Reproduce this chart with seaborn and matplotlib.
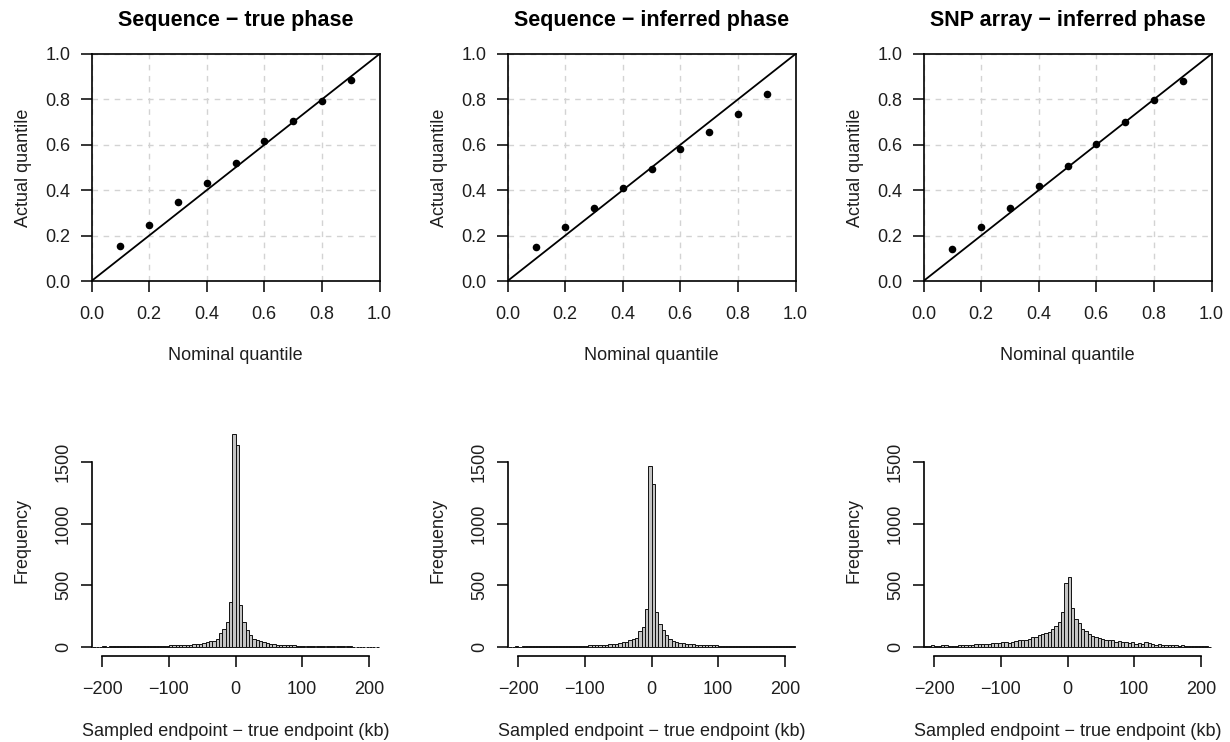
import numpy as np
import pandas as pd
import matplotlib
matplotlib.use("Agg")
import matplotlib.pyplot as plt
import seaborn as sns

titles = ["Sequence \u2212 true phase", "Sequence \u2212 inferred phase", "SNP array \u2212 inferred phase"]

# calibration: nominal vs actual quantile
nominal = [0.1, 0.2, 0.3, 0.4, 0.5, 0.6, 0.7, 0.8, 0.9]
actual_seq_true = [0.154, 0.247, 0.346, 0.432, 0.519, 0.615, 0.703, 0.793, 0.887]
actual_seq_inf = [0.150, 0.238, 0.322, 0.410, 0.493, 0.580, 0.656, 0.735, 0.822]
actual_snp_inf = [0.141, 0.236, 0.322, 0.418, 0.507, 0.604, 0.700, 0.797, 0.882]

# histograms of sampled - true endpoint, 5 kb bins from -215 to 215
bin_edges = list(range(-215, 216, 5))
freq_seq_true = [2, 3, 3, 4, 3, 5, 4, 5, 6, 5, 6, 7, 6, 8, 7, 8, 9, 8, 9, 10,
                 10, 10, 11, 12, 13, 14, 15, 16, 18, 20, 22, 24, 28, 32, 38, 46, 51, 68, 113, 146, 200, 365,
                 1724, 1637,
                 343, 202, 140, 95, 68, 54, 45, 38, 32, 27, 24, 20, 18, 16, 14, 13, 12, 11, 10,
                 9, 9, 8, 8, 7, 7, 6, 6, 6, 5, 5, 5, 4, 4, 4, 3, 3, 3, 3, 2, 2, 2, 2]
freq_seq_inf = [3, 2, 4, 3, 5, 4, 4, 6, 5, 6, 7, 6, 7, 8, 7, 8, 8, 9, 8, 9,
                9, 10, 10, 11, 12, 13, 14, 16, 18, 20, 22, 25, 28, 33, 38, 44, 54, 65, 73, 127, 162, 310,
                1467, 1318,
                283, 189, 135, 100, 68, 51, 42, 36, 31, 27, 24, 21, 19, 17, 16, 15, 14, 13, 12,
                11, 11, 10, 10, 9, 9, 9, 8, 8, 8, 7, 7, 7, 6, 6, 6, 5, 5, 5, 5, 4, 4, 4]
freq_snp_inf = [6, 9, 12, 8, 10, 14, 12, 9, 11, 10, 16, 12, 14, 18, 20, 22, 24, 25, 27, 28,
                30, 32, 36, 44, 38, 36, 38, 50, 55, 58, 60, 66, 77, 83, 94, 102, 110, 121, 143, 168, 204, 280,
                522, 570,
                313, 225, 192, 143, 132, 104, 91, 80, 69, 63, 60, 55, 58, 44, 47, 41, 38, 33, 38, 28,
                30, 26, 40, 36, 24, 20, 22, 18, 20, 16, 12, 14, 10, 12, 9, 8, 10, 7, 6, 5, 4, 3]

quant_ticks = [0.0, 0.2, 0.4, 0.6, 0.8, 1.0]
quant_labels = ["0.0", "0.2", "0.4", "0.6", "0.8", "1.0"]
kb_ticks = [-200, -100, 0, 100, 200]
freq_ticks = [0, 500, 1000, 1500]

sns.set_theme(style="white")
plt.rcParams["font.family"] = ["Liberation Sans", "DejaVu Sans"]

W, H = 1230, 742
fig = plt.figure(figsize=(W / 100, H / 100), dpi=100)


def px_axes(x0, y0, x1, y1):
    return fig.add_axes([x0 / W, 1 - y1 / H, (x1 - x0) / W, (y1 - y0) / H])


col_x = [(91.5, 379.5), (507.5, 795.5), (923.5, 1211.5)]
actuals = [actual_seq_true, actual_seq_inf, actual_snp_inf]
freqs = [freq_seq_true, freq_seq_inf, freq_snp_inf]
centers = [(a + b) / 2 for a, b in zip(bin_edges[:-1], bin_edges[1:])]
ink = "#1e1e1e"

for i in range(3):
    x0, x1 = col_x[i]

    # top row: calibration
    ax = px_axes(x0, 54, x1, 281)
    ax.set_xlim(0, 1)
    ax.set_ylim(0, 1)
    ax.set_xticks(quant_ticks)
    ax.set_yticks(quant_ticks)
    ax.set_xticklabels(quant_labels)
    ax.set_yticklabels(quant_labels)
    ax.grid(True, color="#d3d3d3", linestyle=(0, (4, 4)), linewidth=1)
    ax.axline((0, 0), (1, 1), color="black", linewidth=1.3, zorder=2)
    sns.scatterplot(x=nominal, y=actuals[i], ax=ax, color="black", s=30,
                    edgecolor="black", linewidth=0, zorder=3)
    for sp in ax.spines.values():
        sp.set_color("black")
        sp.set_linewidth(1.2)
    ax.tick_params(bottom=True, left=True, direction="out", length=8, width=1.1,
                   color="black", labelsize=13, labelcolor=ink)
    ax.tick_params(axis="x", pad=10)
    ax.tick_params(axis="y", pad=7)
    ax.set_title(titles[i], fontsize=15.5, fontweight="bold", pad=20, color="black")
    ax.set_xlabel("Nominal quantile", fontsize=13, labelpad=17, color=ink)
    ax.set_ylabel("Actual quantile", fontsize=13, labelpad=10, color=ink)

    # bottom row: histograms
    hx = px_axes(x0, 425, x1, 655.6)
    df = pd.DataFrame({"kb": centers, "count": freqs[i]})
    sns.histplot(data=df, x="kb", weights="count", bins=bin_edges, ax=hx,
                 color="#c4c4c4", edgecolor="#111111", linewidth=0.7, alpha=1)
    hx.set_xlim(-216, 216)
    hx.set_ylim(-70, 1800)
    hx.set_xticks(kb_ticks)
    hx.set_yticks(freq_ticks)
    hx.spines["top"].set_visible(False)
    hx.spines["right"].set_visible(False)
    hx.spines["left"].set_bounds(0, 1500)
    hx.spines["bottom"].set_bounds(-200, 200)
    for sp in ("left", "bottom"):
        hx.spines[sp].set_color("black")
        hx.spines[sp].set_linewidth(1.2)
    hx.tick_params(bottom=True, left=True, direction="out", length=8, width=1.1,
                   color="black", labelsize=13, labelcolor=ink)
    hx.tick_params(axis="x", pad=10)
    hx.tick_params(axis="y", pad=6)
    for lab in hx.get_yticklabels():
        lab.set_rotation(90)
        lab.set_va("center")
    hx.set_xlabel("Sampled endpoint \u2212 true endpoint (kb)", fontsize=13, labelpad=18, color=ink)
    hx.set_ylabel("Frequency", fontsize=13, labelpad=18, color=ink)

fig.savefig("out.png", dpi=100)
